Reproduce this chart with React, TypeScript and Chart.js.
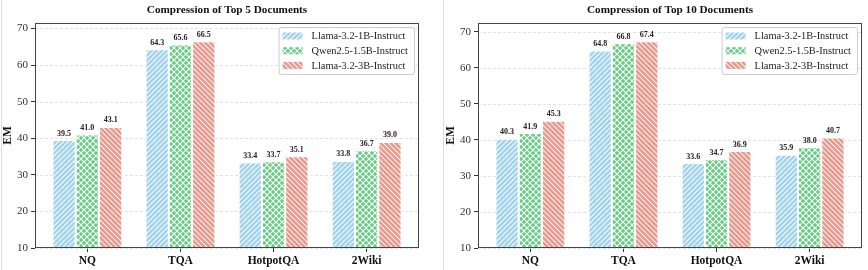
import React, { useEffect, useRef } from 'react';
import { Chart, registerables } from 'chart.js';

Chart.register(...registerables);

const categories = ['NQ', 'TQA', 'HotpotQA', '2Wiki'];
const seriesNames = ['Llama-3.2-1B-Instruct', 'Qwen2.5-1.5B-Instruct', 'Llama-3.2-3B-Instruct'];
const top5Llama1B = [39.5, 64.3, 33.4, 33.8];
const top5Qwen15B = [41.0, 65.6, 33.7, 36.7];
const top5Llama3B = [43.1, 66.5, 35.1, 39.0];
const top10Llama1B = [40.3, 64.8, 33.6, 35.9];
const top10Qwen15B = [41.9, 66.8, 34.7, 38.0];
const top10Llama3B = [45.3, 67.4, 36.9, 40.7];
const yTicks = [10, 20, 30, 40, 50, 60, 70];

const SERIF = "'Liberation Serif', 'Times New Roman', serif";
const COLORS = ['#9fd2f0', '#62cc80', '#ec9488'];
const KINDS = ['fwd', 'cross', 'back'];

function makePattern(ctx: CanvasRenderingContext2D, color: string, kind: string) {
  const s = kind === 'cross' ? 6 : 5;
  const c = document.createElement('canvas');
  c.width = s;
  c.height = s;
  const g = c.getContext('2d')!;
  g.fillStyle = color;
  g.fillRect(0, 0, s, s);
  g.strokeStyle = 'rgba(255,255,255,0.95)';
  g.lineWidth = kind === 'cross' ? 1.2 : 1.1;
  const fwd = () => {
    g.beginPath();
    g.moveTo(-1, s + 1);
    g.lineTo(s + 1, -1);
    g.moveTo(-1, 1);
    g.lineTo(1, -1);
    g.moveTo(s - 1, s + 1);
    g.lineTo(s + 1, s - 1);
    g.stroke();
  };
  const back = () => {
    g.beginPath();
    g.moveTo(-1, -1);
    g.lineTo(s + 1, s + 1);
    g.moveTo(s - 1, -1);
    g.lineTo(s + 1, 1);
    g.moveTo(-1, s - 1);
    g.lineTo(1, s + 1);
    g.stroke();
  };
  if (kind === 'fwd') fwd();
  else if (kind === 'back') back();
  else {
    fwd();
    back();
  }
  return ctx.createPattern(c, 'repeat')!;
}

type PanelProps = {
  left: number;
  width: number;
  rightPad: number;
  title: string;
  series: number[][];
  yMax: number;
};

function Panel({ left, width, rightPad, title, series, yMax }: PanelProps) {
  const ref = useRef<HTMLCanvasElement>(null);
  useEffect(() => {
    const canvas = ref.current!;
    const ctx = canvas.getContext('2d')!;
    const patterns = COLORS.map((c, i) => makePattern(ctx, c, KINDS[i]));

    const decor = {
      id: 'decor',
      beforeDatasetsDraw(chart: any) {
        const { ctx: c, chartArea: a } = chart;
        const y = chart.scales.y;
        c.save();
        c.strokeStyle = '#dcdcdc';
        c.lineWidth = 0.8;
        c.setLineDash([3, 2]);
        yTicks.forEach((t) => {
          const py = Math.round(y.getPixelForValue(t)) + 0.5;
          c.beginPath();
          c.moveTo(a.left, py);
          c.lineTo(a.right, py);
          c.stroke();
        });
        c.restore();
      },
      afterDatasetsDraw(chart: any) {
        const { ctx: c, chartArea: a } = chart;
        c.save();
        // value labels
        c.font = `bold 8px ${SERIF}`;
        c.fillStyle = '#222';
        c.textAlign = 'center';
        c.textBaseline = 'bottom';
        chart.data.datasets.forEach((ds: any, di: number) => {
          const meta = chart.getDatasetMeta(di);
          meta.data.forEach((el: any, i: number) => {
            c.fillText(series[di][i].toFixed(1), el.x, el.y - 2.5);
          });
        });
        // frame
        c.strokeStyle = '#444';
        c.lineWidth = 1;
        c.strokeRect(a.left + 0.5, a.top + 0.5, a.right - a.left - 1, a.bottom - a.top - 1);
        // title
        c.font = `bold 11.2px ${SERIF}`;
        c.fillStyle = '#111';
        c.textBaseline = 'middle';
        c.fillText(title, (a.left + a.right) / 2, 10);
        // y label
        c.save();
        c.translate(8, (a.top + a.bottom) / 2);
        c.rotate(-Math.PI / 2);
        c.font = `bold 11.5px ${SERIF}`;
        c.fillText('EM', 0, 0);
        c.restore();
        // legend
        c.font = `10.4px ${SERIF}`;
        const tw = Math.max(...seriesNames.map((n) => c.measureText(n).width));
        const bw = 4 + 20 + 9 + tw + 6;
        const bh = 47;
        const bx = a.right - 5 - bw;
        const by = a.top + 4;
        c.beginPath();
        if ((c as any).roundRect) (c as any).roundRect(bx + 0.5, by + 0.5, bw, bh, 2.5);
        else c.rect(bx + 0.5, by + 0.5, bw, bh);
        c.fillStyle = 'rgba(255,255,255,0.85)';
        c.fill();
        c.strokeStyle = '#cccccc';
        c.lineWidth = 1;
        c.stroke();
        c.textAlign = 'left';
        c.textBaseline = 'middle';
        seriesNames.forEach((n, i) => {
          const ry = by + 9 + i * 14.7;
          c.fillStyle = patterns[i];
          c.fillRect(bx + 4, ry - 3.5, 20, 7);
          c.fillStyle = '#222';
          c.fillText(n, bx + 33, ry + 0.5);
        });
        c.restore();
      },
    };

    const chart = new Chart(ctx, {
      type: 'bar',
      data: {
        datasets: series.map((vals, i) => ({
          label: seriesNames[i],
          data: vals.map((v, j) => ({ x: j, y: v })),
          backgroundColor: patterns[i],
          borderColor: '#ffffff',
          borderWidth: 1,
          categoryPercentage: 0.75,
          barPercentage: 1,
        })),
      },
      options: {
        animation: false,
        responsive: false,
        maintainAspectRatio: false,
        layout: { padding: { top: 23, right: rightPad, bottom: 0, left: 0 } },
        plugins: {
          legend: { display: false },
          title: { display: false },
          tooltip: { enabled: false },
        },
        scales: {
          x: {
            type: 'linear',
            offset: false,
            min: -0.5625,
            max: 3.5625,
            afterBuildTicks: (s: any) => {
              s.ticks = categories.map((_, i) => ({ value: i }));
            },
            afterFit: (s: any) => {
              s.height = 22;
            },
            ticks: {
              callback: (v: any) => categories[v as number] ?? '',
              font: { family: SERIF, size: 11.5, weight: 'bold' },
              color: '#111',
              padding: 2,
              autoSkip: false,
              maxRotation: 0,
            },
            grid: { offset: false, drawOnChartArea: false, drawTicks: true, tickLength: 4, tickColor: '#333' },
            border: { display: false },
          },
          y: {
            min: 10,
            max: yMax,
            afterBuildTicks: (s: any) => {
              s.ticks = yTicks.map((v) => ({ value: v }));
            },
            afterFit: (s: any) => {
              s.width = 35;
            },
            ticks: {
              font: { family: SERIF, size: 11 },
              color: '#333',
              padding: 3,
            },
            grid: { drawOnChartArea: false, drawTicks: true, tickLength: 4, tickColor: '#333' },
            border: { display: false },
          },
        },
      } as any,
      plugins: [decor],
    });
    return () => chart.destroy();
  }, []);
  return (
    <canvas
      ref={ref}
      width={width}
      height={270}
      style={{ position: 'absolute', left, top: 0, width, height: 270 }}
    />
  );
}

export default function App() {
  return (
    <div style={{ position: 'fixed', left: 0, top: 0, width: 868, height: 270, background: '#fff', overflow: 'hidden' }}>
      <Panel
        left={0}
        width={443}
        rightPad={24}
        title="Compression of Top 5 Documents"
        series={[top5Llama1B, top5Qwen15B, top5Llama3B]}
        yMax={71.5}
      />
      <Panel
        left={443}
        width={425}
        rightPad={6}
        title="Compression of Top 10 Documents"
        series={[top10Llama1B, top10Qwen15B, top10Llama3B]}
        yMax={72.45}
      />
      <div style={{ position: 'absolute', left: 1, top: 0, width: 1, height: 270, background: '#dddddd' }} />
      <div style={{ position: 'absolute', left: 443, top: 0, width: 1, height: 270, background: '#dddddd' }} />
    </div>
  );
}
